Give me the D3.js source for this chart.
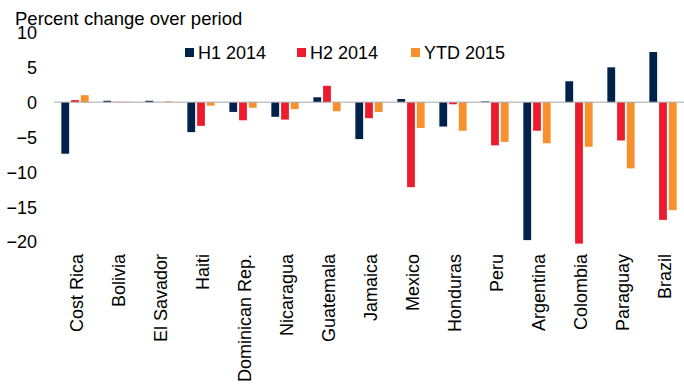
<!DOCTYPE html>
<html>
<head>
<meta charset="utf-8">
<script src="https://cdn.jsdelivr.net/npm/d3@7"></script>
<style>
  html, body { margin: 0; padding: 0; background: #fff; }
  svg { display: block; font-family: "Liberation Sans", Arial, sans-serif; }
</style>
</head>
<body>
<svg id="chart" width="684" height="385"></svg>
<script>
// Countries along the x axis
const categories = ["Cost Rica", "Bolivia", "El Savador", "Haiti", "Dominican Rep.",
  "Nicaragua", "Guatemala", "Jamaica", "Mexico", "Honduras", "Peru",
  "Argentina", "Colombia", "Paraguay", "Brazil"];

// Series names
const seriesNames = ["H1 2014", "H2 2014", "YTD 2015"];

// Percent change over each period, one value per country
const h1_2014  = [-7.4, 0.2, 0.2, -4.3, -1.4, -2.1, 0.7, -5.3, 0.45, -3.5, 0.1, -19.8, 3.0, 5.0, 7.2];
const h2_2014  = [0.3, 0.05, 0.0, -3.4, -2.6, -2.5, 2.35, -2.3, -12.2, -0.3, -6.2, -4.1, -20.3, -5.5, -16.9];
const ytd_2015 = [1.0, 0.05, 0.1, -0.5, -0.8, -1.0, -1.3, -1.4, -3.7, -4.1, -5.7, -5.9, -6.4, -9.5, -15.5];

const yTicks = [10, 5, 0, -5, -10, -15, -20];
const colors = ["#00224a", "#ec1c2e", "#f7902d"];

const seriesValues = [h1_2014, h2_2014, ytd_2015];
const rows = categories.map((c, i) => ({
  country: c,
  values: seriesNames.map((s, k) => ({ key: s, value: seriesValues[k][i] }))
}));

const svg = d3.select("#chart");

const x0 = d3.scaleBand()
  .domain(categories)
  .range([54, 684])
  .paddingInner(0.35)
  .paddingOuter(0.175);

const x1 = d3.scaleBand()
  .domain(seriesNames)
  .range([0, x0.bandwidth()])
  .paddingInner(0.2);

const y = d3.scaleLinear()
  .domain([-20, 10])
  .range([241.5, 32.5]);

const color = d3.scaleOrdinal().domain(seriesNames).range(colors);

// Y axis labels (no axis line)
const yAxis = d3.axisLeft(y).tickValues(yTicks).tickSize(0).tickPadding(0)
  .tickFormat(d3.format("d"));
const yg = svg.append("g").attr("transform", "translate(37,0)").call(yAxis);
yg.select(".domain").remove();
yg.selectAll("text")
  .attr("font-size", 18)
  .attr("font-family", "'Liberation Sans', Arial, sans-serif")
  .attr("fill", "#000")
  .attr("dy", "0.36em");

// Bars
const groups = svg.append("g").selectAll("g")
  .data(rows)
  .join("g")
  .attr("transform", d => `translate(${x0(d.country)},0)`);

groups.selectAll("rect")
  .data(d => d.values)
  .join("rect")
  .attr("x", d => x1(d.key))
  .attr("width", x1.bandwidth())
  .attr("y", d => y(Math.max(0, d.value)))
  .attr("height", d => Math.abs(y(d.value) - y(0)))
  .attr("fill", d => color(d.key));

// Zero line
svg.append("line")
  .attr("x1", 54).attr("x2", 684)
  .attr("y1", y(0)).attr("y2", y(0))
  .attr("stroke", "#a6a6a6")
  .attr("stroke-width", 1);

// Rotated category labels
const xg = svg.append("g");
xg.selectAll("text")
  .data(categories)
  .join("text")
  .attr("transform", d => `translate(${x0(d) + x0.bandwidth() / 2 + 8},254) rotate(-90)`)
  .attr("text-anchor", "end")
  .attr("font-size", 18)
  .attr("fill", "#000")
  .text(d => d);

// Axis title
svg.append("text")
  .attr("x", 15)
  .attr("y", 25)
  .attr("font-size", 18.5)
  .attr("fill", "#000")
  .text("Percent change over period");

// Legend
const legendX = [185, 297, 411];
const legend = svg.append("g").selectAll("g")
  .data(seriesNames)
  .join("g")
  .attr("transform", (d, i) => `translate(${legendX[i]},0)`);
legend.append("rect")
  .attr("x", 0).attr("y", 48)
  .attr("width", 9).attr("height", 9)
  .attr("fill", d => color(d));
legend.append("text")
  .attr("x", 13).attr("y", 59)
  .attr("font-size", 18)
  .attr("fill", "#000")
  .text(d => d);
</script>
</body>
</html>
